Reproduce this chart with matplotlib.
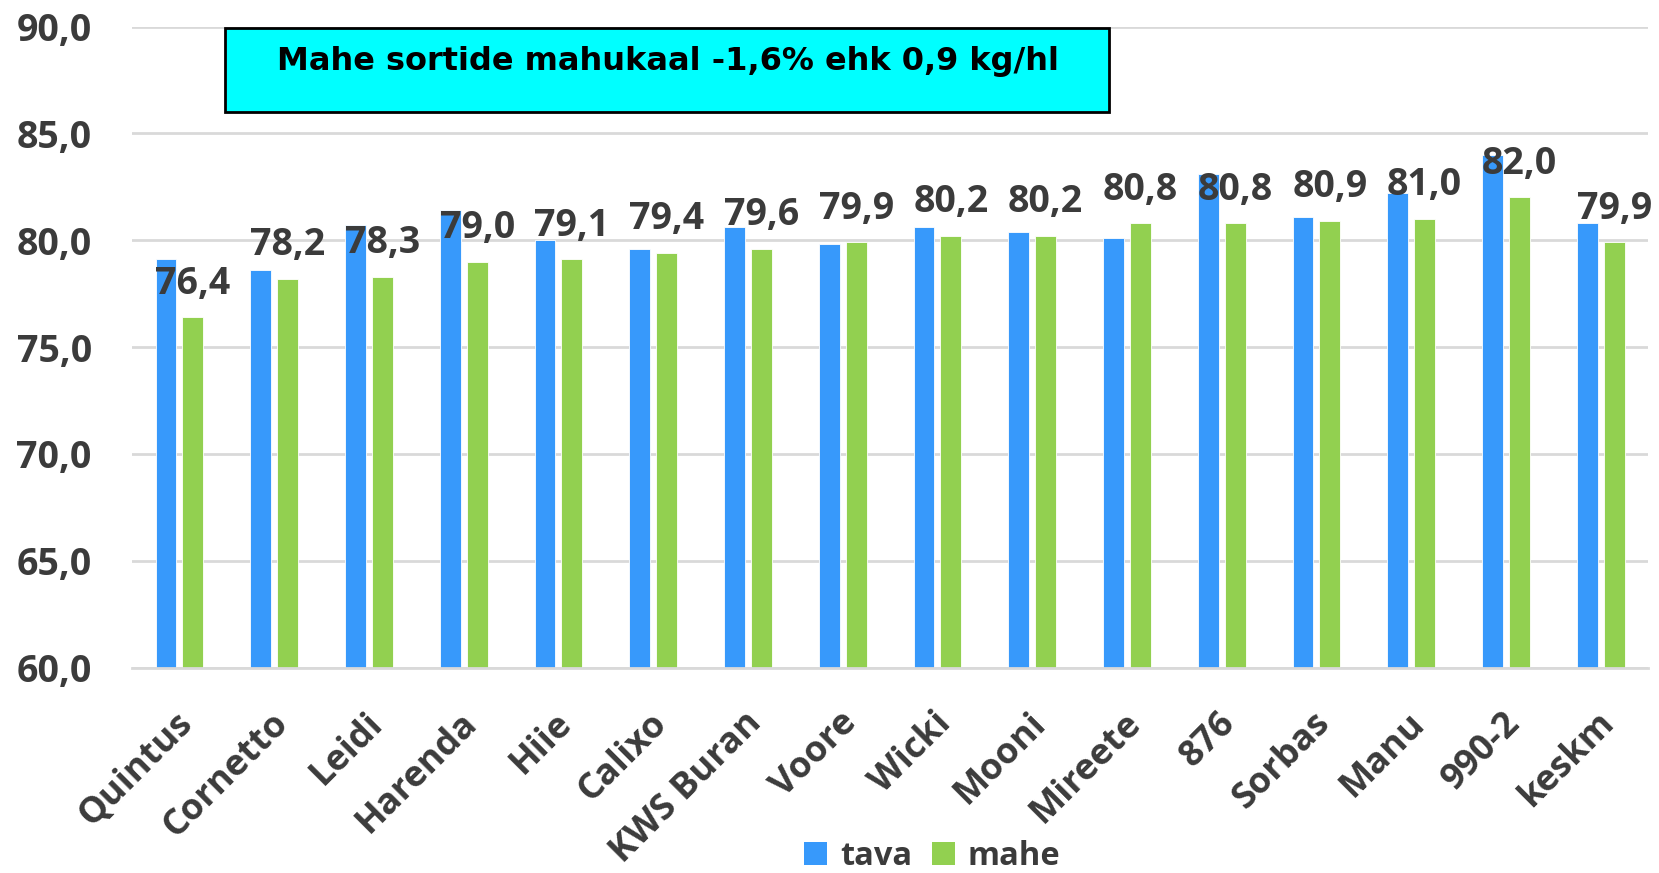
import numpy as np
import matplotlib
matplotlib.use("Agg")
import matplotlib.pyplot as plt
from matplotlib.patches import Rectangle, Patch
from matplotlib.transforms import ScaledTranslation

categories = ["Quintus", "Cornetto", "Leidi", "Harenda", "Hiie", "Calixo", "KWS Buran",
              "Voore", "Wicki", "Mooni", "Mireete", "876", "Sorbas", "Manu", "990-2", "keskm"]
tava = [79.1, 78.6, 80.7, 81.4, 80.0, 79.6, 80.6, 79.8, 80.6, 80.4, 80.1, 83.1, 81.1, 82.2, 84.0, 80.8]
mahe = [76.4, 78.2, 78.3, 79.0, 79.1, 79.4, 79.6, 79.9, 80.2, 80.2, 80.8, 80.8, 80.9, 81.0, 82.0, 79.9]
yticks = [60, 65, 70, 75, 80, 85, 90]
series_names = ["tava", "mahe"]
title_text = "Mahe sortide mahukaal -1,6% ehk 0,9 kg/hl"

BLUE = "#3799FB"
GREEN = "#92D050"
TXT = "#3B3B3B"
FONT = "Open Sans"

fig = plt.figure(figsize=(16.59, 8.73), dpi=100)
ax = fig.add_axes([0.0796, 0.2353, 0.9138, 0.7343])

x = np.arange(len(categories))
off = 0.142
w = 0.22
ax.bar(x - off, tava, w, color=BLUE, edgecolor="white", linewidth=0.6, zorder=2)
ax.bar(x + off, mahe, w, color=GREEN, edgecolor="white", linewidth=0.6, zorder=2)

ax.set_xlim(-0.5, len(categories) - 0.5)
ax.set_ylim(60, 90)
ax.set_yticks(yticks)
ax.set_yticklabels([f"{t:.1f}".replace(".", ",") for t in yticks],
                   fontsize=27, fontweight="bold", color=TXT, family=FONT)
ax.yaxis.grid(True, color="#D9D9D9", linewidth=2)
ax.set_axisbelow(True)
for s in ["top", "right", "left"]:
    ax.spines[s].set_visible(False)
ax.spines["bottom"].set_color("#D9D9D9")
ax.spines["bottom"].set_linewidth(2)
ax.tick_params(axis="both", length=0)
ax.tick_params(axis="y", pad=29)
ax.tick_params(axis="x", pad=27)

ax.set_xticks(x)
ax.set_xticklabels(categories, rotation=45, ha="right", va="top", rotation_mode="anchor",
                   fontsize=26, fontweight="bold", family=FONT, color=TXT)
shift = ScaledTranslation(-4 / 100, 0, fig.dpi_scale_trans)
for lbl in ax.get_xticklabels():
    lbl.set_transform(lbl.get_transform() + shift)

for xi, v in zip(x, mahe):
    ax.annotate(f"{v:.1f}".replace(".", ","), (xi + off, v), xytext=(0, 17),
                textcoords="offset points", ha="center", va="baseline",
                fontsize=27, fontweight="bold", color=TXT, family=FONT, zorder=5)

# Title box
fig.patches.append(Rectangle((225 / 1659, 1 - 112 / 873), (1109 - 225) / 1659, (112 - 28.4) / 873,
                             transform=fig.transFigure, facecolor="#00FFFF", edgecolor="black",
                             linewidth=2, zorder=3))
fig.text(668 / 1659, 1 - 70 / 873, title_text, ha="center", va="baseline", fontsize=23,
         fontweight="bold", color="black", family="DejaVu Sans", zorder=4)

handles = [Patch(facecolor=BLUE), Patch(facecolor=GREEN)]
fig.legend(handles, series_names, loc="center", bbox_to_anchor=(0.562, 0.019), ncol=2,
           frameon=False, prop={"family": FONT, "weight": "bold", "size": 23.5},
           handlelength=0.7, handleheight=0.7, handletextpad=0.4, columnspacing=0.6,
           labelcolor=TXT)

fig.savefig("out.png", dpi=100)
